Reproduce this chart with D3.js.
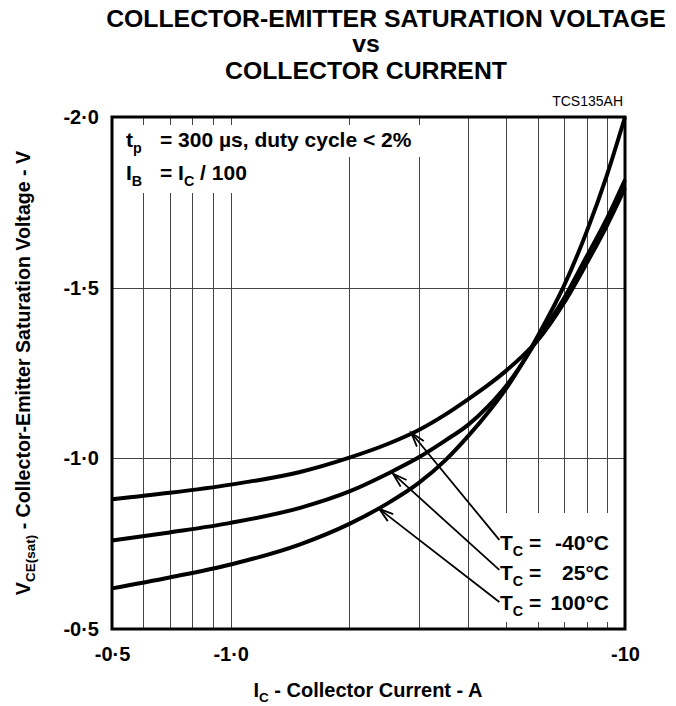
<!DOCTYPE html>
<html><head><meta charset="utf-8">
<script src="https://cdn.jsdelivr.net/npm/d3@7"></script>
<style>
body{margin:0;background:#fff}
svg{display:block}
text{font-family:"Liberation Sans",Arial,Helvetica,sans-serif;font-weight:bold;fill:#000}
text.reg{font-weight:normal}
</style>
</head><body>
<svg id="c" width="676" height="706"></svg>
<script>
// ---- data ----
const currents = [0.5, 0.7, 1.0, 1.5, 2, 2.5, 3, 3.5, 4, 4.5, 5, 5.5, 6, 7, 8, 9, 10];
const vMinus40 = [-0.880,-0.899,-0.923,-0.960,-1.002,-1.042,-1.083,-1.128,-1.173,-1.215,-1.257,-1.300,-1.345,-1.455,-1.572,-1.682,-1.792];
const v25      = [-0.759,-0.783,-0.811,-0.855,-0.903,-0.955,-1.003,-1.052,-1.098,-1.153,-1.213,-1.280,-1.349,-1.468,-1.592,-1.703,-1.816];
const v100     = [-0.619,-0.651,-0.689,-0.748,-0.808,-0.868,-0.928,-0.994,-1.065,-1.135,-1.205,-1.280,-1.357,-1.505,-1.665,-1.830,-2.000];
const seriesTemps = ["-40°C", "25°C", "100°C"];
const xTickValues = [0.5, 1, 10];
const xTickLabels = ["-0·5", "-1·0", "-10"];
const xGridValues = [0.6, 0.7, 0.8, 0.9, 1, 2, 3, 4, 5, 6, 7, 8, 9];
const yTickValues = [-2.0, -1.5, -1.0, -0.5];
const yTickLabels = ["-2·0", "-1·5", "-1·0", "-0·5"];
const yGridValues = [-1.5, -1.0];
const arrowTipI  = [2.87, 2.58, 2.38];
const arrowTipV  = [-1.075, -0.955, -0.852];
const arrowTailI = [4.8, 4.8, 4.8];
const arrowTailV = [-0.761, -0.673, -0.579];

// ---- layout ----
const L = 112, R = 625, T = 117, B = 629;
const svg = d3.select("#c");
const x = d3.scaleLog().domain([0.5, 10]).range([L, R]);
const y = d3.scaleLinear().domain([-0.5, -2.0]).range([B, T]);

// grid
const grid = svg.append("g").attr("stroke", "#444").attr("stroke-width", 1);
grid.selectAll("line.vx").data(xGridValues).enter().append("line")
  .attr("x1", d => Math.round(x(d)) + 0.5).attr("x2", d => Math.round(x(d)) + 0.5)
  .attr("y1", T).attr("y2", B);
grid.selectAll("line.hy").data(yGridValues).enter().append("line")
  .attr("y1", d => Math.round(y(d)) + 0.5).attr("y2", d => Math.round(y(d)) + 0.5)
  .attr("x1", L).attr("x2", R);

// white boxes behind annotation & legend
svg.append("rect").attr("x", L + 2).attr("y", 125).attr("width", 322).attr("height", 32).attr("fill", "#fff");
svg.append("rect").attr("x", L + 2).attr("y", 156).attr("width", 140).attr("height", 37).attr("fill", "#fff");
svg.append("rect").attr("x", 498).attr("y", 513).attr("width", 118).attr("height", 109).attr("fill", "#fff");

// curves
const line = d3.line().x(d => x(d[0])).y(d => y(d[1])).curve(d3.curveMonotoneX);
[vMinus40, v25, v100].forEach(vals => {
  svg.append("path").datum(currents.map((c, i) => [c, vals[i]]))
    .attr("d", line).attr("fill", "none").attr("stroke", "#000")
    .attr("stroke-width", 4).attr("stroke-linejoin", "round");
});

// arrows
const ag = svg.append("g").attr("stroke", "#000").attr("stroke-width", 1.8).attr("fill", "none");
arrowTipI.forEach((ti, i) => {
  const x1 = x(arrowTailI[i]), y1 = y(arrowTailV[i]);
  const x2 = x(ti), y2 = y(arrowTipV[i]);
  ag.append("line").attr("x1", x1).attr("y1", y1).attr("x2", x2).attr("y2", y2);
  const ang = Math.atan2(y1 - y2, x1 - x2), len = 15, sp = 0.3;
  const p1 = [x2 + len * Math.cos(ang - sp), y2 + len * Math.sin(ang - sp)];
  const p2 = [x2 + len * Math.cos(ang + sp), y2 + len * Math.sin(ang + sp)];
  ag.append("path").attr("d", `M${p1}L${x2},${y2}L${p2}`);
});

// border
svg.append("rect").attr("x", L).attr("y", T).attr("width", R - L).attr("height", B - T)
  .attr("fill", "none").attr("stroke", "#000").attr("stroke-width", 3);

// axes labels via d3 axes
const xAxis = d3.axisBottom(x).tickValues(xTickValues).tickSize(0)
  .tickFormat((d, i) => xTickLabels[i]);
const gx = svg.append("g").attr("transform", `translate(0,${B + 15})`).call(xAxis);
gx.select(".domain").remove();
gx.selectAll("text").attr("font-size", 20).attr("font-family", null).attr("dy", "0.71em");

const yAxis = d3.axisLeft(y).tickValues(yTickValues).tickSize(0)
  .tickFormat((d, i) => yTickLabels[i]);
const gy = svg.append("g").attr("transform", `translate(${L - 10},0)`).call(yAxis);
gy.select(".domain").remove();
gy.selectAll("text").attr("font-size", 20).attr("font-family", null);

// titles
const title = svg.append("g").attr("text-anchor", "middle");
title.append("text").attr("x", 386).attr("y", 27).attr("font-size", 24.8).text("COLLECTOR-EMITTER SATURATION VOLTAGE");
title.append("text").attr("x", 366).attr("y", 52).attr("font-size", 24.8).text("vs");
title.append("text").attr("x", 366).attr("y", 79).attr("font-size", 24.8).text("COLLECTOR CURRENT");
svg.append("text").attr("class", "reg").attr("x", 623).attr("y", 106).attr("text-anchor", "end")
  .attr("font-size", 14).text("TCS135AH");

// x axis title
const xt = svg.append("text").attr("x", 368).attr("y", 697).attr("text-anchor", "middle").attr("font-size", 20);
xt.append("tspan").text("I");
xt.append("tspan").attr("font-size", 13.5).attr("dy", 5).text("C");
xt.append("tspan").attr("dy", -5).text(" - Collector Current - A");

// y axis title
const yt = svg.append("text").attr("transform", "translate(30,373) rotate(-90)")
  .attr("text-anchor", "middle").attr("font-size", 19.6);
yt.append("tspan").text("V");
yt.append("tspan").attr("font-size", 13.5).attr("dy", 5).text("CE(sat)");
yt.append("tspan").attr("dy", -5).text(" - Collector-Emitter Saturation Voltage - V");

// annotation
function sub(g, xx, yy, main, s, size) {
  const t = g.append("text").attr("x", xx).attr("y", yy).attr("font-size", size);
  t.append("tspan").text(main);
  t.append("tspan").attr("font-size", size * 0.68).attr("dy", 6).text(s);
  return t;
}
sub(svg, 126, 147, "t", "p", 21);
svg.append("text").attr("x", 160).attr("y", 147).attr("font-size", 21).text("= 300 µs, duty cycle < 2%");
sub(svg, 126, 180, "I", "B", 21);
const ib = svg.append("text").attr("x", 160).attr("y", 180).attr("font-size", 21);
ib.append("tspan").text("= I");
ib.append("tspan").attr("font-size", 14.3).attr("dy", 6).text("C");
ib.append("tspan").attr("dy", -6).text(" / 100");

// legend
const legY = [550, 580, 610];
seriesTemps.forEach((t, i) => {
  sub(svg, 500, legY[i], "T", "C", 21);
  svg.append("text").attr("x", 529).attr("y", legY[i]).attr("font-size", 21).text("=");
  svg.append("text").attr("x", 609).attr("y", legY[i]).attr("font-size", 21).attr("text-anchor", "end").text(t);
});
</script>
</body></html>
